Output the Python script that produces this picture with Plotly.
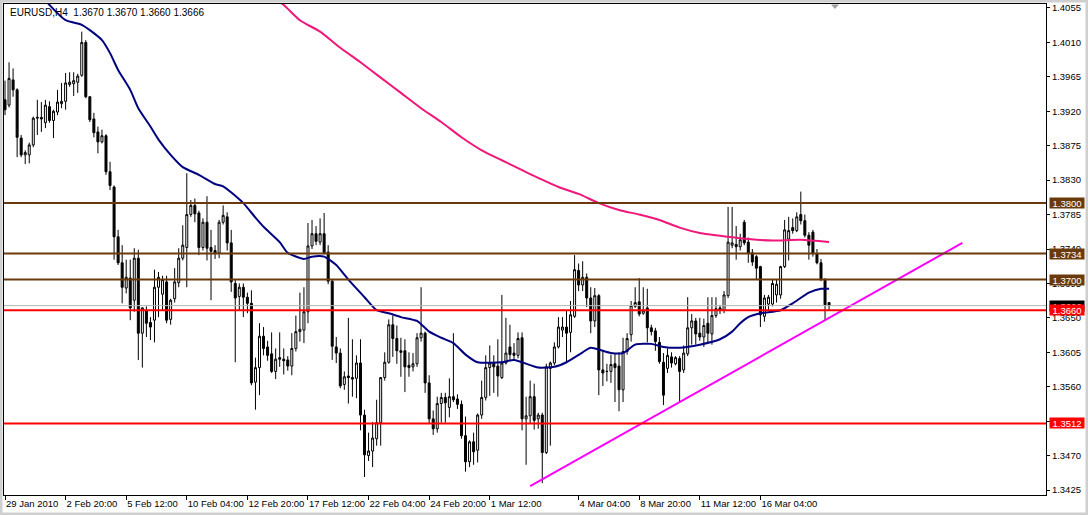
import plotly.graph_objects as go

# ---------------- data (EURUSD H4) ----------------
open_ = [
    1.3935,1.3928,1.3961,1.3948,1.3885,1.3863,1.3863,1.3876,1.3911,1.3912,1.3905,1.3926,1.3908,1.3919,1.3930,1.3933,1.3955,1.3956,1.3958,1.3967,1.4010,1.3939,1.3910,1.3893,1.3880,1.3888,1.3841,1.3821,1.3756,1.3722,1.3689,1.3702,1.3673,1.3728,1.3630,1.3659,1.3644,1.3647,1.3690,1.3681,1.3697,1.3648,
    1.3675,1.3696,1.3728,1.3742,1.3785,1.3797,1.3787,1.3742,1.3775,1.3742,1.3738,1.3735,1.3775,1.3782,1.3748,1.3695,1.3678,1.3690,1.3677,1.3669,1.3566,1.3585,1.3626,1.3612,1.3603,1.3580,1.3598,1.3596,1.3595,1.3587,1.3610,1.3632,1.3634,1.3658,1.3744,1.3760,1.3749,1.3760,1.3736,1.3698,1.3612,
    1.3604,1.3563,1.3574,1.3572,1.3571,1.3591,1.3523,1.3470,1.3476,1.3492,1.3513,1.3572,1.3592,1.3641,1.3623,1.3607,1.3607,1.3588,1.3586,1.3590,1.3624,1.3630,1.3565,1.3518,1.3505,1.3538,1.3546,1.3533,1.3547,1.3544,1.3537,1.3496,1.3462,1.3488,1.3477,1.3523,1.3546,1.3585,1.3591,1.3587,1.3572,
    1.3591,1.3612,1.3604,1.3601,1.3624,1.3518,1.3522,1.3547,1.3518,1.3523,1.3474,1.3584,1.3591,1.3612,1.3634,1.3638,1.3631,1.3652,1.3712,1.3693,1.3703,1.3676,1.3646,1.3679,1.3582,1.3580,1.3580,1.3590,1.3587,1.3556,1.3606,1.3628,1.3665,1.3671,1.3656,1.3663,1.3637,1.3633,1.3618,1.3592,
    1.3584,1.3599,1.3590,1.3597,1.3582,1.3603,1.3637,1.3646,1.3630,1.3625,1.3643,1.3629,1.3653,1.3663,1.3660,1.3679,1.3745,1.3746,1.3743,1.3775,1.3749,1.3735,1.3730,1.3717,1.3652,1.3668,1.3668,1.3680,1.3680,1.3717,1.3753,1.3768,1.3764,1.3785,1.3777,1.3758,1.3762,1.3734,1.3722,1.3700,1.3670,
]
high = [
    1.3960,1.3984,1.3976,1.3950,1.3889,1.3869,1.3879,1.3913,1.3935,1.3932,1.3935,1.3933,1.3922,1.3948,1.3957,1.3970,1.3971,1.3971,1.3969,1.4024,1.4013,1.3940,1.3918,1.3900,1.3896,1.3890,1.3854,1.3823,1.3765,1.3745,1.3726,1.3726,1.3741,1.3739,1.3664,1.3665,1.3651,1.3713,1.3710,1.3705,1.3705,1.3675,
    1.3715,1.3741,1.3771,1.3839,1.3804,1.3806,1.3790,1.3780,1.3809,1.3765,1.3745,1.3778,1.3797,1.3788,1.3765,1.3700,1.3695,1.3695,1.3683,1.3686,1.3598,1.3643,1.3638,1.3620,1.3631,1.3610,1.3631,1.3610,1.3600,1.3630,1.3653,1.3683,1.3690,1.3774,1.3778,1.3770,1.3780,1.3787,1.3745,1.3700,1.3625,
    1.3610,1.3580,1.3650,1.3622,1.3601,1.3622,1.3530,1.3500,1.3514,1.3543,1.3572,1.3605,1.3648,1.3653,1.3640,1.3624,1.3622,1.3605,1.3604,1.3630,1.3690,1.3632,1.3575,1.3529,1.3547,1.3552,1.3552,1.3571,1.3630,1.3550,1.3542,1.3521,1.3490,1.3500,1.3525,1.3568,1.3601,1.3614,1.3601,1.3622,1.3680,
    1.3650,1.3641,1.3617,1.3631,1.3631,1.3547,1.3568,1.3564,1.3526,1.3526,1.3590,1.3593,1.3618,1.3651,1.3651,1.3660,1.3672,1.3732,1.3721,1.3724,1.3708,1.3690,1.3689,1.3681,1.3608,1.3590,1.3602,1.3603,1.3605,1.3624,1.3630,1.3672,1.3690,1.3702,1.3690,1.3688,1.3641,1.3637,1.3625,1.3604,
    1.3610,1.3605,1.3600,1.3600,1.3614,1.3677,1.3655,1.3650,1.3650,1.3649,1.3677,1.3677,1.3677,1.3667,1.3685,1.3795,1.3795,1.3770,1.3760,1.3778,1.3755,1.3740,1.3732,1.3718,1.3680,1.3680,1.3700,1.3700,1.3718,1.3778,1.3782,1.3780,1.3788,1.3815,1.3785,1.3762,1.3765,1.3740,1.3727,1.3702,1.3670,
]
low = [
    1.3915,1.3925,1.3939,1.3860,1.3860,1.3851,1.3852,1.3873,1.3889,1.3893,1.3898,1.3905,1.3885,1.3915,1.3924,1.3922,1.3952,1.3940,1.3944,1.3965,1.3937,1.3906,1.3886,1.3865,1.3878,1.3837,1.3817,1.3726,1.3719,1.3669,1.3682,1.3647,1.3658,1.3595,1.3585,1.3625,1.3621,1.3618,1.3651,1.3660,1.3643,1.3641,
    1.3670,1.3690,1.3725,1.3690,1.3782,1.3775,1.3732,1.3738,1.3725,1.3673,1.3727,1.3728,1.3772,1.3738,1.3684,1.3592,1.3660,1.3651,1.3656,1.3562,1.3530,1.3549,1.3601,1.3594,1.3578,1.3570,1.3586,1.3576,1.3581,1.3575,1.3606,1.3619,1.3617,1.3643,1.3740,1.3745,1.3745,1.3733,1.3694,1.3595,1.3591,
    1.3558,1.3556,1.3538,1.3547,1.3545,1.3503,1.3442,1.3463,1.3455,1.3483,1.3483,1.3568,1.3590,1.3599,1.3590,1.3573,1.3553,1.3573,1.3580,1.3586,1.3619,1.3552,1.3512,1.3497,1.3500,1.3513,1.3513,1.3520,1.3540,1.3531,1.3492,1.3449,1.3455,1.3458,1.3461,1.3518,1.3542,1.3548,1.3552,1.3547,1.3570,
    1.3589,1.3595,1.3594,1.3597,1.3503,1.3458,1.3512,1.3504,1.3505,1.3434,1.3472,1.3483,1.3588,1.3610,1.3625,1.3592,1.3605,1.3650,1.3685,1.3685,1.3664,1.3630,1.3638,1.3549,1.3561,1.3567,1.3565,1.3540,1.3528,1.3540,1.3602,1.3619,1.3663,1.3652,1.3654,1.3618,1.3627,1.3607,1.3590,1.3536,
    1.3578,1.3585,1.3588,1.3540,1.3578,1.3600,1.3615,1.3615,1.3620,1.3612,1.3617,1.3615,1.3650,1.3655,1.3656,1.3676,1.3741,1.3726,1.3738,1.3745,1.3722,1.3718,1.3700,1.3638,1.3645,1.3660,1.3665,1.3670,1.3675,1.3715,1.3725,1.3760,1.3762,1.3772,1.3755,1.3726,1.3730,1.3720,1.3698,1.3647,1.3660,
]
close = [
    1.3922,1.3963,1.3948,1.3886,1.3863,1.3866,1.3876,1.3911,1.3912,1.3910,1.3928,1.3908,1.3920,1.3932,1.3933,1.3957,1.3958,1.3960,1.3966,1.4010,1.3939,1.3909,1.3892,1.3880,1.3888,1.3841,1.3823,1.3756,1.3722,1.3690,1.3703,1.3663,1.3728,1.3630,1.3663,1.3643,1.3638,1.3690,1.3703,1.3700,1.3647,1.3673,
    1.3697,1.3728,1.3745,1.3785,1.3797,1.3786,1.3742,1.3775,1.3741,1.3737,1.3734,1.3775,1.3784,1.3748,1.3697,1.3676,1.3690,1.3677,1.3669,1.3565,1.3585,1.3626,1.3610,1.3601,1.3580,1.3596,1.3596,1.3594,1.3587,1.3610,1.3632,1.3635,1.3658,1.3744,1.3760,1.3750,1.3760,1.3735,1.3698,1.3613,1.3604,
    1.3561,1.3573,1.3572,1.3570,1.3591,1.3523,1.3471,1.3476,1.3493,1.3513,1.3572,1.3592,1.3641,1.3623,1.3607,1.3605,1.3586,1.3585,1.3590,1.3624,1.3630,1.3565,1.3518,1.3505,1.3538,1.3546,1.3539,1.3547,1.3543,1.3537,1.3496,1.3462,1.3488,1.3475,1.3523,1.3546,1.3585,1.3591,1.3586,1.3574,1.3591,
    1.3604,1.3602,1.3601,1.3623,1.3518,1.3522,1.3547,1.3516,1.3523,1.3474,1.3586,1.3591,1.3612,1.3638,1.3638,1.3630,1.3654,1.3713,1.3693,1.3703,1.3676,1.3646,1.3679,1.3582,1.3578,1.3580,1.3589,1.3585,1.3556,1.3606,1.3623,1.3666,1.3670,1.3655,1.3660,1.3637,1.3632,1.3619,1.3593,1.3549,
    1.3601,1.3591,1.3598,1.3580,1.3604,1.3637,1.3646,1.3629,1.3625,1.3640,1.3630,1.3653,1.3662,1.3660,1.3680,1.3749,1.3748,1.3743,1.3752,1.3748,1.3735,1.3723,1.3715,1.3654,1.3676,1.3677,1.3695,1.3694,1.3717,1.3765,1.3764,1.3764,1.3782,1.3777,1.3758,1.3745,1.3734,1.3722,1.3700,1.3667,1.3666,
]

# fast moving average (navy), sampled at bar indices
ma_fast_idx = [9,11,15,19,21,24,26,28,31,33,36,38,41,44,48,52,54,59,62,64,68,70,74,76,79,82,85,89,92,95,98,102,105,108,111,114,117,123,126,132,136,139,143,145,150,153,156,160,163,167,172,177,180,182,184,187,192,195,199,202,204]
ma_fast_val = [1.4072,1.4059,1.4039,1.4033,1.4026,1.4013,1.3996,1.3974,1.3948,1.3924,1.3900,1.3883,1.3863,1.3847,1.3837,1.3825,1.3822,1.3800,1.3781,1.3769,1.3749,1.3735,1.3727,1.3730,1.3730,1.3719,1.3700,1.3677,1.3660,1.3656,1.3651,1.3646,1.3632,1.3624,1.3617,1.3602,1.3592,1.3592,1.3595,1.3585,1.3586,1.3592,1.3605,1.3611,1.3604,1.3604,1.3615,1.3616,1.3612,1.3611,1.3615,1.3622,1.3632,1.3643,1.3651,1.3656,1.3660,1.3669,1.3683,1.3688,1.3688]

# slow moving average (pink)
ma_slow_idx = [67,69,73,78,83,88,93,98,103,108,113,118,123,128,132,137,142,147,152,157,162,167,172,179,184,190,197,204]
ma_slow_val = [1.4066,1.4059,1.4039,1.4024,1.4003,1.3984,1.3964,1.3944,1.3924,1.3906,1.3886,1.3869,1.3856,1.3843,1.3833,1.3821,1.3812,1.3800,1.3791,1.3785,1.3778,1.3768,1.3761,1.3756,1.3753,1.3751,1.3752,1.3749]

# trend line anchors
trend_idx = [130, 237]
trend_val = [1.3430, 1.3748]

brown_levels = [1.3800, 1.3734, 1.3700]
red_levels = [1.3660, 1.3512]
bid_level = 1.3666

y_ticks = [1.4055,1.4010,1.3965,1.3920,1.3875,1.3830,1.3785,1.3740,1.3695,1.3650,1.3605,1.3560,1.3515,1.3470,1.3425]
x_tick_idx = [0,15,30,45,60,75,90,105,120,142,157,172,187]
x_tick_text = ["29 Jan 2010","2 Feb 20:00","5 Feb 12:00","10 Feb 04:00","12 Feb 20:00","17 Feb 12:00",
               "22 Feb 04:00","24 Feb 20:00","1 Mar 12:00","4 Mar 04:00","8 Mar 20:00","11 Mar 12:00","16 Mar 04:00"]
title_text = "EURUSD,H4  1.3670 1.3670 1.3660 1.3666"

# ---------------- styles ----------------
FONT = "Liberation Sans, Arial, sans-serif"
BROWN = "#6B3A0C"
RED = "#FF0000"
NAVY = "#000080"
PINK = "#F0177A"
MAGENTA = "#FF00FF"

W, H = 1088, 515
L, R, T, B = 4, 42, 4, 20
pw, ph = W - L - R, H - T - B

def px_x(px):
    return (px - L) / pw

def px_y(py):
    return (H - B - py) / ph

n = len(close)
x = list(range(n))

fig = go.Figure()
fig.add_trace(go.Candlestick(
    x=x, open=open_, high=high, low=low, close=close,
    increasing=dict(line=dict(color="black", width=1), fillcolor="white"),
    decreasing=dict(line=dict(color="black", width=1), fillcolor="black"),
    whiskerwidth=0, hoverinfo="skip", showlegend=False,
))
fig.add_trace(go.Scatter(x=ma_fast_idx, y=ma_fast_val, mode="lines",
                         line=dict(color=NAVY, width=2, shape="spline", smoothing=0.6),
                         hoverinfo="skip", showlegend=False))
fig.add_trace(go.Scatter(x=ma_slow_idx, y=ma_slow_val, mode="lines",
                         line=dict(color=PINK, width=2, shape="spline", smoothing=0.6),
                         hoverinfo="skip", showlegend=False))
fig.add_trace(go.Scatter(x=trend_idx, y=trend_val, mode="lines",
                         line=dict(color=MAGENTA, width=2),
                         hoverinfo="skip", showlegend=False, cliponaxis=True))

shapes = []
shapes.append(dict(type="line", xref="paper", x0=0, x1=1, yref="y", y0=bid_level, y1=bid_level,
                   line=dict(color="#B8B8B8", width=1), layer="above"))
for lv in brown_levels:
    shapes.append(dict(type="line", xref="paper", x0=0, x1=1, yref="y", y0=lv, y1=lv,
                       line=dict(color=BROWN, width=2), layer="above"))
for lv in red_levels:
    shapes.append(dict(type="line", xref="paper", x0=0, x1=1, yref="y", y0=lv, y1=lv,
                       line=dict(color=RED, width=2), layer="above"))
# window border
shapes.append(dict(type="rect", xref="paper", yref="paper",
                   x0=px_x(0), x1=px_x(W), y0=px_y(H), y1=px_y(0),
                   line=dict(color="#CFCFCF", width=5), fillcolor="rgba(0,0,0,0)", layer="above"))
# chart shift marker
cx = px_x(835)
shapes.append(dict(type="path", xref="paper", yref="paper",
                   path=f"M {cx-4/pw} {px_y(4.5)} L {cx+4/pw} {px_y(4.5)} L {cx} {px_y(9)} Z",
                   fillcolor="#A0A0A0", line=dict(color="#A0A0A0", width=0), layer="above"))

annotations = [dict(text=title_text, xref="paper", yref="paper", x=px_x(8), y=px_y(13),
                    xanchor="left", yanchor="middle", showarrow=False,
                    font=dict(family=FONT, size=10, color="black"))]

def level_label(val, bg):
    return dict(text=f"{val:.4f}", xref="paper", yref="y", x=px_x(1049), y=val,
                xanchor="left", yanchor="middle", showarrow=False,
                width=34, height=10, bgcolor=bg, borderpad=0,
                font=dict(family=FONT, size=9.5, color="white"))

for lv in brown_levels:
    annotations.append(level_label(lv, BROWN))
annotations.append(level_label(bid_level, "black"))
for lv in red_levels:
    annotations.append(level_label(lv, RED))

fig.update_layout(
    template="none",
    width=W, height=H,
    margin=dict(l=L, r=R, t=T, b=B, pad=0, autoexpand=False),
    paper_bgcolor="white", plot_bgcolor="white",
    showlegend=False,
    boxgap=0.3,
    shapes=shapes, annotations=annotations,
    font=dict(family=FONT, size=9.5, color="black"),
    xaxis=dict(range=[-0.25, 257.7], showgrid=False, zeroline=False, automargin=False,
               showline=True, mirror=True, linecolor="black", linewidth=1,
               ticks="outside", ticklen=4, tickcolor="black", tickangle=0,
               tickvals=x_tick_idx, ticktext=x_tick_text,
               ticklabelposition="outside right",
               tickfont=dict(family=FONT, size=9.5, color="black"),
               rangeslider=dict(visible=False), fixedrange=True),
    yaxis=dict(range=[1.34185, 1.40602], side="right", showgrid=False, zeroline=False,
               automargin=False,
               showline=True, mirror=True, linecolor="black", linewidth=1,
               ticks="outside", ticklen=3, tickcolor="black",
               tickvals=y_ticks, ticktext=[f"{v:.4f}" for v in y_ticks],
               tickfont=dict(family=FONT, size=9.5, color="black"), fixedrange=True),
)

fig.write_html("out.html", config={"displayModeBar": False},
               post_script="document.body.style.margin='0';document.body.style.overflow='hidden';")
